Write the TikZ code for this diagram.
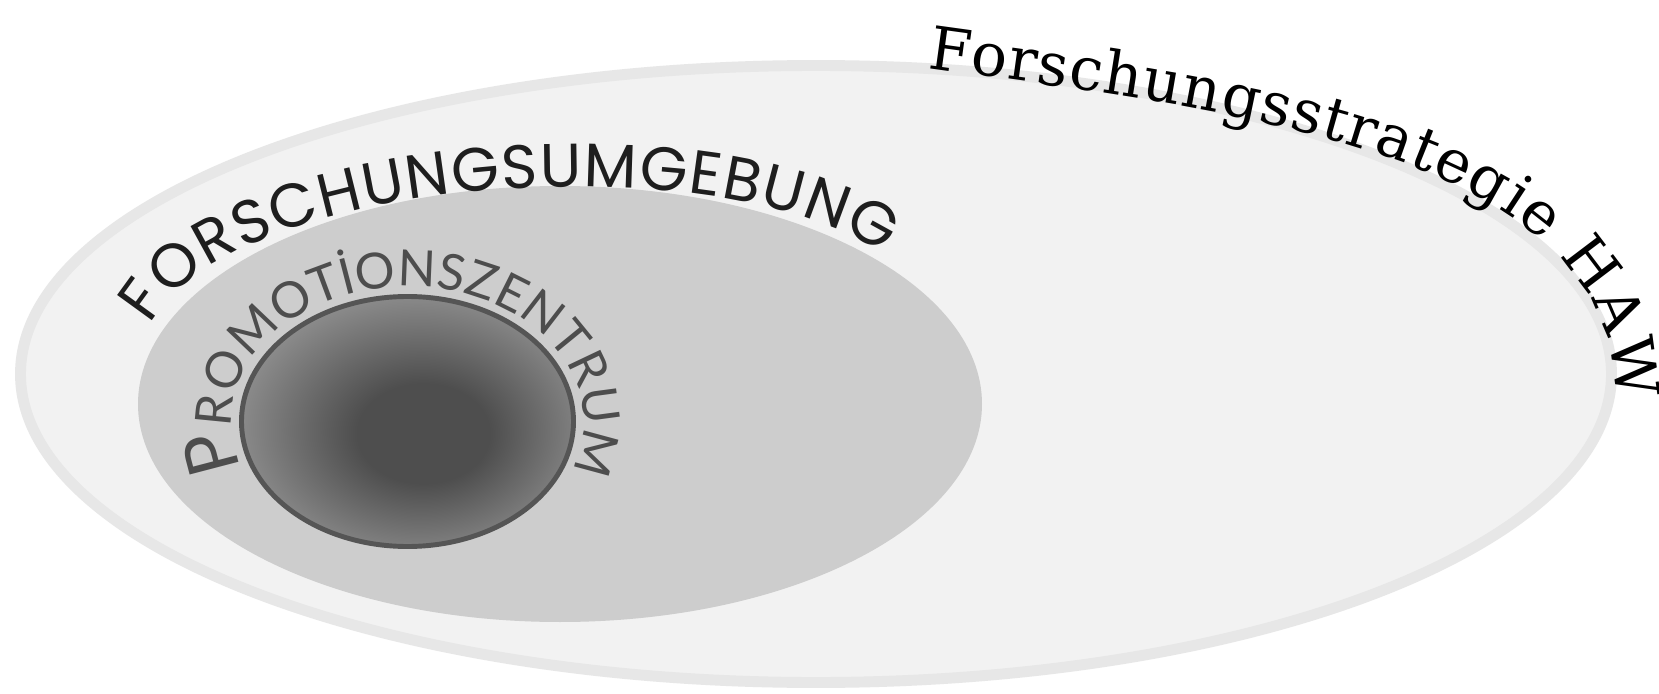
\documentclass[tikz,border=0pt]{standalone}
\usepackage{fontspec}
\usetikzlibrary{decorations.text}
\newfontfamily\hawfont{DejaVu Serif}
\newfontfamily\umgfont{Poppins}
\newfontfamily\promofont{Lato}
\definecolor{outerfill}{HTML}{F2F2F2}
\definecolor{outerrim}{HTML}{E7E7E7}
\definecolor{midfill}{HTML}{CDCDCD}
\definecolor{coregray}{HTML}{4E4E4E}
\definecolor{rimgray}{HTML}{D0D0D0}
\definecolor{ringgray}{HTML}{555555}
\definecolor{umgtext}{HTML}{1E1E1E}
\definecolor{promotext}{HTML}{4D4D4D}
\pgfdeclareradialshading{promoshade}{\pgfpoint{3bp}{-3bp}}{color(0bp)=(coregray); color(10bp)=(coregray); color(46bp)=(rimgray); color(50bp)=(rimgray)}
\tikzset{
  curvetext/.style={decorate, decoration={text along path, text align={fit to path}, #1}}
}
\begin{document}
\begin{tikzpicture}[x=0.01cm,y=0.01cm]
\path[use as bounding box] (0,0) rectangle (1659,-694);
\clip (0,0) rectangle (1659,-694);
\fill[white] (0,0) rectangle (1659,-694);
% outer ellipse
\draw[draw=outerrim, fill=outerfill, line width=3.1pt] (816,-374) ellipse [x radius=795.5, y radius=308.5];
% middle ellipse
\fill[midfill] (560,-404) ellipse [x radius=422, y radius=218];
% inner ellipse
\shadedraw[shading=promoshade, draw=ringgray, line width=1.4pt] (407.5,-421.5) ellipse [x radius=166, y radius=125];
% texts
\path[curvetext={text color=black, text={|\hawfont\fontsize{17}{17}\selectfont|Forschungsstrategie HAW}}]
  (927,-68) .. controls (1227,-110) and (1616,-150) .. (1616,-400);
\path[curvetext={text color=umgtext, text={|\umgfont\fontsize{17.5}{17.5}\selectfont|FORSCHUNGSUMGEBUNG}}]
  (150,-325) .. controls (230,-175) and (720,-140) .. (884,-255);
\path[curvetext={text color=promotext, text={|\promofont\fontsize{20}{20}\selectfont|P|\promofont\fontsize{14.2}{14.2}\selectfont|ROMOTİONSZENTRUM}}]
  (242.1,-467.7) arc[start angle=200, end angle=-20, x radius=176, y radius=135];
\end{tikzpicture}
\end{document}
